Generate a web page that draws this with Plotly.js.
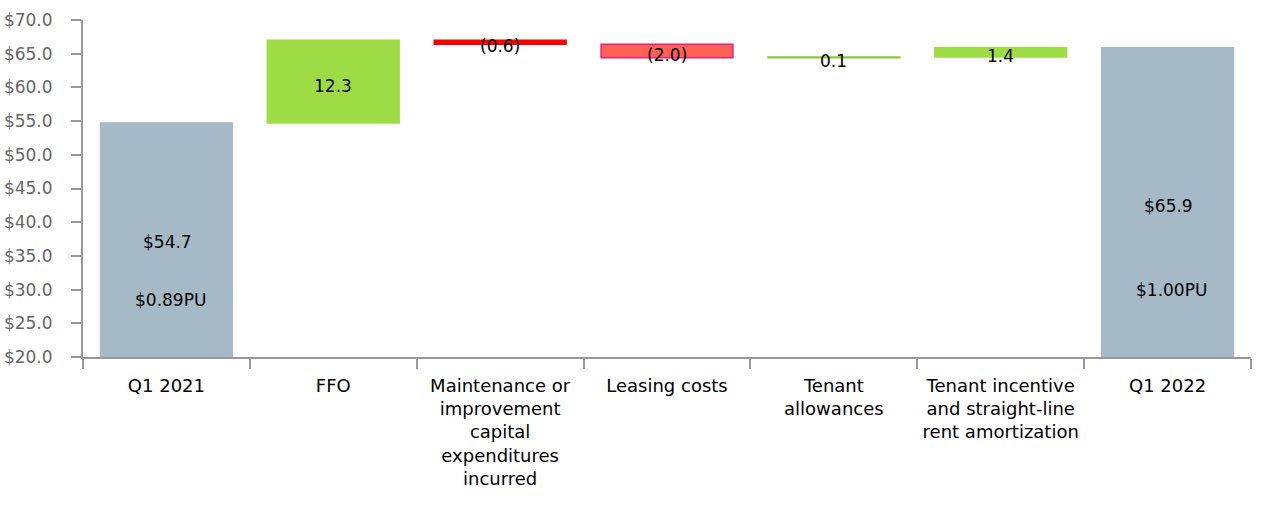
<!DOCTYPE html>
<html>
<head>
<meta charset="utf-8">
<script src="https://cdn.plot.ly/plotly-3.0.1.min.js"></script>
<style>html,body{margin:0;padding:0;background:#fff}#chart{width:1270px;height:510px}</style>
</head>
<body>
<div id="chart"></div>
<script>
// ---- data ----
var categories = ["Q1 2021", "FFO", "Maintenance or<br>improvement<br>capital<br>expenditures<br>incurred", "Leasing costs", "Tenant<br>allowances", "Tenant incentive<br>and straight-line<br>rent amortization", "Q1 2022"];
var changes = [54.7, 12.3, -0.6, -2.0, 0.1, 1.4, 65.9];
var isTotal = [true, false, false, false, false, false, true];
var valueLabels = ["$54.7", "12.3", "(0.6)", "(2.0)", "0.1", "1.4", "$65.9"];
var perUnitLabels = ["$0.89PU", "", "", "", "", "", "$1.00PU"];
var fillColors = ["#a6b9c6", "#9ddc44", "#ff0000", "#ff6154", "#9ddc44", "#9ddc44", "#a6b9c6"];
var lineColors = ["#a6b9c6", "#9ddc44", "#ff0000", "#e8207f", "#8cc63f", "#9ddc44", "#a6b9c6"];

// ---- waterfall geometry from data ----
var bases = [], heights = [], running = 0;
for (var i = 0; i < changes.length; i++) {
  if (isTotal[i]) { bases.push(0); heights.push(changes[i]); running = changes[i]; }
  else { bases.push(running); heights.push(changes[i]); running += changes[i]; }
}

var trace = {
  type: "bar",
  x: categories,
  y: heights,
  base: bases,
  width: 0.79,
  marker: { color: fillColors, line: { color: lineColors, width: 1.5 } },
  hoverinfo: "skip",
  showlegend: false
};

var annotations = [];
for (var j = 0; j < categories.length; j++) {
  var lf = { family: "DejaVu Sans, Verdana, sans-serif", size: 17, color: "#000" };
  if (isTotal[j]) {
    var yVal = (j === 0) ? 37.0 : 42.4;
    var yPU = (j === 0) ? 28.4 : 29.9;
    annotations.push({ x: categories[j], y: yVal, xref: "x", yref: "y", text: valueLabels[j], showarrow: false, font: lf, xshift: 1 });
    annotations.push({ x: categories[j], y: yPU, xref: "x", yref: "y", text: perUnitLabels[j], showarrow: false, font: lf, xshift: 4 });
  } else {
    annotations.push({ x: categories[j], y: bases[j] + heights[j] / 2, xref: "x", yref: "y", yshift: -4, text: valueLabels[j], showarrow: false, font: lf });
  }
}

var layout = {
  width: 1270, height: 510,
  margin: { l: 83, r: 19, t: 20, b: 153 },
  paper_bgcolor: "#fff", plot_bgcolor: "#fff",
  font: { family: "DejaVu Sans, Verdana, sans-serif" },
  barmode: "overlay",
  xaxis: {
    type: "category",
    showline: true, linecolor: "#999", linewidth: 2,
    ticks: "outside", tickson: "boundaries", ticklen: 10, tickcolor: "#999", tickwidth: 2,
    ticklabelstandoff: 11,
    showgrid: false, zeroline: false,
    tickfont: { size: 18, color: "#000" }
  },
  yaxis: {
    range: [20, 70], dtick: 5, tick0: 20,
    tickprefix: "$", tickformat: ".1f",
    showline: true, linecolor: "#999", linewidth: 2,
    ticks: "outside", ticklen: 10, tickcolor: "#999", tickwidth: 2,
    ticklabelstandoff: 15,
    showgrid: false, zeroline: false,
    tickfont: { size: 17, color: "#666" }
  },
  annotations: annotations
};

Plotly.newPlot("chart", [trace], layout, { displayModeBar: false, staticPlot: true });
</script>
</body>
</html>
